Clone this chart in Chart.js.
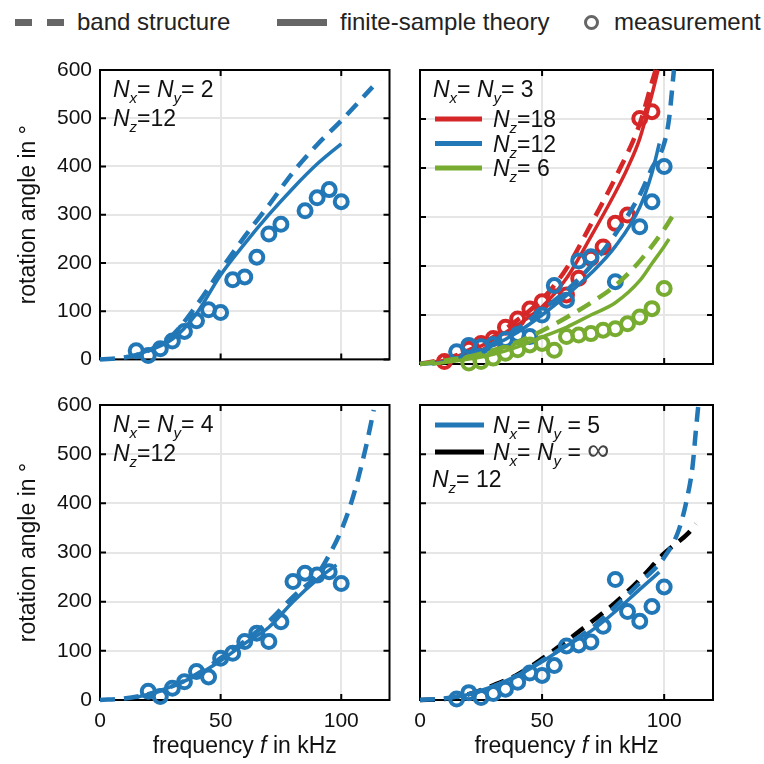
<!DOCTYPE html>
<html>
<head>
<meta charset="utf-8">
<script src="https://cdn.jsdelivr.net/npm/chart.js@4.4.0/dist/chart.umd.min.js"></script>
<style>
  body { margin: 0; background: #fff; width: 764px; height: 764px; overflow: hidden; position: relative;
         font-family: "Liberation Sans", Arial, sans-serif; }
  canvas { position: absolute; }
  .lg { position: absolute; background: #666; }
  .lt { position: absolute; top: 9px; font-size: 24px; line-height: 26px; color: #222; white-space: nowrap; }
  .ring { position: absolute; left: 584px; top: 15px; width: 15px; height: 15px; box-sizing: border-box;
          border: 3.5px solid #666; border-radius: 50%; }
</style>
</head>
<body>
<div class="lg" style="left:15px;top:19px;width:17px;height:7px"></div>
<div class="lg" style="left:47px;top:19px;width:17px;height:7px"></div>
<div class="lt" style="left:77px">band structure</div>
<div class="lg" style="left:277px;top:19px;width:50px;height:7px"></div>
<div class="lt" style="left:340px">finite-sample theory</div>
<div class="ring"></div>
<div class="lt" style="left:614px">measurement</div>

<canvas id="c1" width="400" height="340" style="left:0;top:40px"></canvas>
<canvas id="c2" width="364" height="340" style="left:400px;top:40px"></canvas>
<canvas id="c3" width="400" height="384" style="left:0;top:380px"></canvas>
<canvas id="c4" width="364" height="384" style="left:400px;top:380px"></canvas>

<script>
// ---- data (f in kHz, angle in degrees) ----
// panel 1: Nx = Ny = 2, Nz = 12
const p1BandF = [0, 10, 20, 30, 40, 50, 60, 70, 80, 90, 100, 113];
const p1BandV = [0, 4, 18, 50, 112, 185, 255, 320, 388, 445, 495, 565];
const p1TheoryF = [15, 20, 30, 40, 50, 60, 70, 80, 90, 100];
const p1TheoryV = [10, 18, 42, 95, 175, 240, 300, 355, 405, 447];
const p1MeasF = [15, 20, 25, 30, 35, 40, 45, 50, 55, 60, 65, 70, 75, 85, 90, 95, 100];
const p1MeasV = [18, 8, 22, 38, 58, 80, 103, 97, 165, 171, 212, 260, 280, 308, 335, 352, 327];

// panel 2: Nx = Ny = 3, Nz = 18 / 12 / 6
const p2Band18F = [0, 10, 20, 30, 40, 50, 60, 70, 80, 90, 95, 96.5];
const p2Band18V = [0, 10, 28, 55, 90, 132, 195, 285, 380, 490, 575, 600];
const p2Theory18F = [0, 10, 20, 30, 40, 50, 60, 70, 80, 85, 90, 95, 97.5];
const p2Theory18V = [0, 8, 25, 50, 80, 117, 175, 260, 350, 400, 460, 550, 600];
const p2Meas18F = [10, 20, 25, 30, 35, 40, 45, 50, 55, 60, 65, 70, 75, 80, 85, 90, 95];
const p2Meas18V = [5, 30, 42, 52, 75, 92, 112, 127, 137, 141, 175, 216, 239, 287, 304, 501, 515];

const p2Band12F = [0, 10, 20, 30, 40, 50, 60, 70, 80, 90, 95, 100, 102, 104];
const p2Band12V = [0, 5, 20, 42, 72, 110, 150, 200, 265, 345, 400, 450, 500, 600];
const p2Theory12F = [5, 10, 20, 30, 40, 50, 60, 70, 80, 90, 95, 98];
const p2Theory12V = [0, 5, 18, 38, 65, 100, 140, 185, 240, 320, 390, 450];
const p2Meas12F = [15, 20, 25, 30, 35, 40, 45, 50, 55, 60, 65, 70, 80, 90, 95, 100];
const p2Meas12V = [25, 38, 35, 40, 50, 60, 56, 100, 160, 130, 210, 219, 168, 280, 331, 403];

const p2Band6F = [0, 20, 30, 40, 50, 60, 70, 80, 90, 100, 105];
const p2Band6V = [0, 15, 28, 45, 68, 95, 125, 160, 210, 275, 315];
const p2Theory6F = [5, 20, 30, 40, 50, 60, 70, 80, 90, 95, 100, 102];
const p2Theory6V = [0, 10, 20, 35, 55, 75, 100, 125, 170, 205, 240, 255];
const p2Meas6F = [20, 25, 30, 35, 40, 45, 50, 55, 60, 65, 70, 75, 80, 85, 90, 95, 100];
const p2Meas6V = [2, 5, 12, 22, 29, 39, 42, 28, 56, 59, 62, 69, 72, 82, 96, 113, 154];

// panel 3: Nx = Ny = 4, Nz = 12
const p3BandF = [0, 10, 20, 30, 40, 50, 60, 70, 80, 90, 95, 100, 105, 110, 113.5];
const p3BandV = [0, 3, 12, 28, 52, 85, 120, 160, 210, 255, 295, 345, 415, 510, 590];
const p3TheoryF = [15, 20, 30, 40, 50, 60, 70, 80, 90, 98];
const p3TheoryV = [5, 12, 28, 50, 80, 115, 148, 200, 245, 275];
const p3MeasF = [20, 25, 30, 35, 40, 45, 50, 55, 60, 65, 70, 75, 80, 85, 90, 95, 100];
const p3MeasV = [18, 7, 24, 37, 58, 47, 85, 95, 119, 136, 119, 159, 241, 258, 254, 261, 237];

// panel 4: Nx = Ny = 5 and Nx = Ny = inf, Nz = 12
const p4Band5F = [0, 10, 20, 30, 40, 50, 60, 70, 80, 90, 100, 106, 109.5, 111.6, 113, 114];
const p4Band5V = [0, 3, 12, 28, 50, 80, 112, 145, 190, 238, 290, 346, 413, 474, 549, 600];
const p4Theory5F = [15, 20, 30, 40, 50, 60, 70, 80, 90, 98];
const p4Theory5V = [5, 12, 28, 50, 78, 110, 140, 180, 225, 260];
const p4Meas5F = [15, 20, 25, 30, 35, 40, 45, 50, 55, 60, 65, 70, 75, 80, 85, 90, 95, 100];
const p4Meas5V = [2, 15, 5, 13, 22, 36, 55, 50, 70, 110, 112, 118, 150, 245, 180, 160, 190, 230];
const p4BandInfF = [0, 10, 20, 30, 40, 50, 60, 70, 80, 90, 100, 110, 113];
const p4BandInfV = [0, 2, 12, 30, 52, 84, 120, 158, 198, 245, 298, 340, 358];

const xTicks = [0, 50, 100];
const yTicks = [0, 100, 200, 300, 400, 500, 600];

// ---- styling ----
const FONT = '"Liberation Sans", Arial, sans-serif';
const BLUE = '#2277b6', RED = '#d62728', GREEN = '#77ac30', BLACK = '#000';

function pts(fs, vs) {
  return fs.map((f, i) => ({ x: f, y: vs[i] }));
}
function band(fs, vs, color) {
  return { data: pts(fs, vs), showLine: true, borderColor: color, borderWidth: 4.5, borderDash: [15, 9],
           pointRadius: 0, cubicInterpolationMode: 'monotone', clip: false };
}
function theory(fs, vs, color) {
  return { data: pts(fs, vs), showLine: true, borderColor: color, borderWidth: 3.5,
           pointRadius: 0, cubicInterpolationMode: 'monotone', clip: false };
}
function meas(fs, vs, color) {
  return { data: pts(fs, vs), showLine: false, borderColor: color, backgroundColor: 'rgba(0,0,0,0)',
           pointRadius: 6.5, pointBorderWidth: 4, pointStyle: 'circle', clip: false };
}

// rich text: [text, kind] with kind n = normal, i = italic, s = subscript, g = big glyph
function rich(ctx, x, y, parts, color) {
  ctx.save();
  ctx.fillStyle = color || '#111';
  ctx.textBaseline = 'alphabetic';
  parts.forEach(([s, k]) => {
    let dy = 0;
    if (k === 'i') ctx.font = 'italic 23px ' + FONT;
    else if (k === 's') { ctx.font = 'italic 15px ' + FONT; dy = 6; }
    else if (k === 'g') { ctx.font = '31px ' + FONT; ctx.fillStyle = '#444'; }
    else ctx.font = '23px ' + FONT;
    ctx.fillText(s, x, y + dy);
    x += ctx.measureText(s).width;
  });
  ctx.restore();
}
const nxy = v => [['N', 'i'], ['x', 's'], ['= ', 'n'], ['N', 'i'], ['y', 's'], ['= ' + v, 'n']];
const nz = v => [['N', 'i'], ['z', 's'], ['=' + v, 'n']];

function legendLine(ctx, x0, x1, y, color) {
  ctx.save();
  ctx.strokeStyle = color;
  ctx.lineWidth = 5;
  ctx.beginPath();
  ctx.moveTo(x0, y);
  ctx.lineTo(x1, y);
  ctx.stroke();
  ctx.restore();
}

const framePlugin = {
  id: 'frame',
  beforeDatasetsDraw(chart) {
    const { ctx, chartArea: a, scales: { x, y } } = chart;
    const t = 6;
    ctx.save();
    ctx.strokeStyle = '#000';
    ctx.lineWidth = 2;
    ctx.strokeRect(a.left, a.top, a.right - a.left, a.bottom - a.top);
    ctx.beginPath();
    xTicks.forEach(v => {
      const px = x.getPixelForValue(v);
      ctx.moveTo(px, a.bottom); ctx.lineTo(px, a.bottom - t);
      ctx.moveTo(px, a.top); ctx.lineTo(px, a.top + t);
    });
    yTicks.forEach(v => {
      const py = y.getPixelForValue(v);
      ctx.moveTo(a.left, py); ctx.lineTo(a.left + t, py);
      ctx.moveTo(a.right, py); ctx.lineTo(a.right - t, py);
    });
    ctx.stroke();
    ctx.restore();
  }
};

function xTitle(chart) {
  const { ctx, chartArea: a } = chart;
  const parts = [['frequency ', 'n'], ['f', 'i'], [' in kHz', 'n']];
  ctx.save();
  let w = 0;
  parts.forEach(([s, k]) => { ctx.font = (k === 'i' ? 'italic ' : '') + '23px ' + FONT; w += ctx.measureText(s).width; });
  ctx.restore();
  rich(ctx, (a.left + a.right) / 2 - w / 2, a.bottom + 53, parts);
}

function makePanel(id, o) {
  return new Chart(document.getElementById(id), {
    type: 'scatter',
    data: { datasets: o.datasets },
    options: {
      responsive: false,
      animation: false,
      layout: { padding: { top: o.padTop, right: o.padRight, left: 0, bottom: 0 } },
      plugins: { legend: { display: false }, tooltip: { enabled: false } },
      scales: {
        x: {
          type: 'linear', min: 0, max: 120,
          afterFit: s => { s.height = o.xh; },
          grid: { color: '#e6e6e6', lineWidth: 2, drawTicks: false },
          border: { display: false },
          ticks: { display: o.showX, stepSize: 50, includeBounds: false, maxRotation: 0,
                   font: { size: 21, family: FONT }, color: '#111', padding: 9 }
        },
        y: {
          type: 'linear', min: 0, max: 600,
          afterFit: s => { s.width = o.yw; },
          grid: { color: '#e6e6e6', lineWidth: 2, drawTicks: false },
          border: { display: false },
          ticks: { display: o.showY, stepSize: 100, includeBounds: false,
                   font: { size: 21, family: FONT }, color: '#111', padding: 8 },
          title: { display: o.showY, text: 'rotation angle in °', color: '#111',
                   font: { size: 23, family: FONT }, padding: { top: 15, bottom: 0 } }
        }
      }
    },
    plugins: [framePlugin, { id: 'notes', afterDraw: chart => o.notes(chart) }]
  });
}

makePanel('c1', {
  padTop: 30, padRight: 7, xh: 16, yw: 100, showX: false, showY: true,
  datasets: [band(p1BandF, p1BandV, BLUE), theory(p1TheoryF, p1TheoryV, BLUE), meas(p1MeasF, p1MeasV, BLUE)],
  notes: chart => {
    const a = chart.chartArea, ctx = chart.ctx;
    rich(ctx, a.left + 13, a.top + 27, nxy('2'));
    rich(ctx, a.left + 13, a.top + 56, nz('12'));
  }
});

makePanel('c2', {
  padTop: 30, padRight: 51, xh: 16, yw: 20, showX: false, showY: false,
  datasets: [
    band(p2Band6F, p2Band6V, GREEN), theory(p2Theory6F, p2Theory6V, GREEN), meas(p2Meas6F, p2Meas6V, GREEN),
    band(p2Band12F, p2Band12V, BLUE), theory(p2Theory12F, p2Theory12V, BLUE), meas(p2Meas12F, p2Meas12V, BLUE),
    band(p2Band18F, p2Band18V, RED), theory(p2Theory18F, p2Theory18V, RED), meas(p2Meas18F, p2Meas18V, RED)
  ],
  notes: chart => {
    const a = chart.chartArea, ctx = chart.ctx;
    rich(ctx, a.left + 13, a.top + 27, nxy('3'));
    [[RED, '18'], [BLUE, '12'], [GREEN, ' 6']].forEach(([c, v], i) => {
      const yy = a.top + 49 + i * 24.5;
      legendLine(ctx, a.left + 15, a.left + 62, yy, c);
      rich(ctx, a.left + 73, yy + 8, nz(v));
    });
  }
});

makePanel('c3', {
  padTop: 25, padRight: 7, xh: 64, yw: 100, showX: true, showY: true,
  datasets: [band(p3BandF, p3BandV, BLUE), theory(p3TheoryF, p3TheoryV, BLUE), meas(p3MeasF, p3MeasV, BLUE)],
  notes: chart => {
    const a = chart.chartArea, ctx = chart.ctx;
    rich(ctx, a.left + 13, a.top + 27, nxy('4'));
    rich(ctx, a.left + 13, a.top + 56, nz('12'));
    xTitle(chart);
  }
});

makePanel('c4', {
  padTop: 25, padRight: 51, xh: 64, yw: 20, showX: true, showY: false,
  datasets: [
    band(p4Band5F, p4Band5V, BLUE), theory(p4Theory5F, p4Theory5V, BLUE), meas(p4Meas5F, p4Meas5V, BLUE),
    band(p4BandInfF, p4BandInfV, BLACK)
  ],
  notes: chart => {
    const a = chart.chartArea, ctx = chart.ctx;
    legendLine(ctx, a.left + 15, a.left + 64, a.top + 20, BLUE);
    rich(ctx, a.left + 73, a.top + 28, [['N', 'i'], ['x', 's'], ['= ', 'n'], ['N', 'i'], ['y', 's'], [' = 5', 'n']]);
    legendLine(ctx, a.left + 15, a.left + 64, a.top + 47, BLACK);
    rich(ctx, a.left + 73, a.top + 55, [['N', 'i'], ['x', 's'], ['= ', 'n'], ['N', 'i'], ['y', 's'], [' = ', 'n'], ['∞', 'g']]);
    rich(ctx, a.left + 12, a.top + 82, nz(' 12'));
    xTitle(chart);
  }
});
</script>
</body>
</html>
